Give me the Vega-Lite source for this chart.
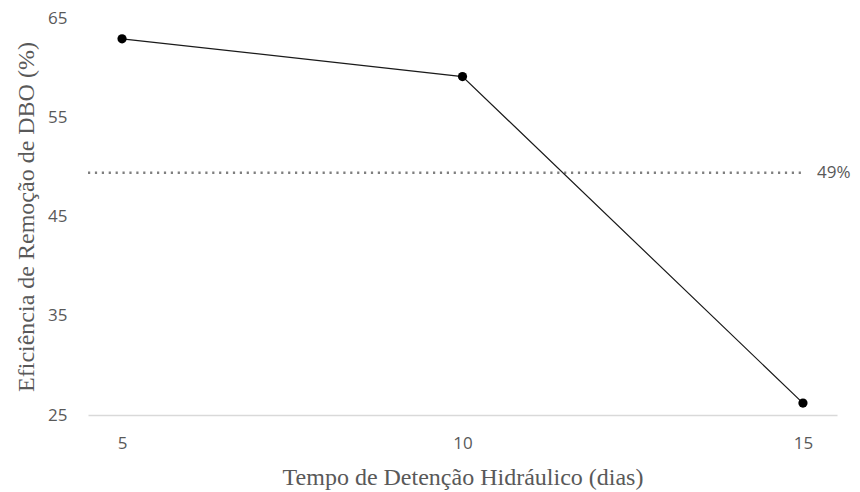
{
  "$schema": "https://vega.github.io/schema/vega-lite/v6.json",
  "width": 749,
  "height": 397,
  "autosize": "none",
  "padding": {"left": 88, "top": 18, "right": 23, "bottom": 77},
  "background": "white",
  "config": {
    "view": {"stroke": null},
    "axis": {
      "grid": false,
      "ticks": false,
      "labelFont": "Open Sans",
      "labelFontSize": 17,
      "labelColor": "#595959",
      "titleFont": "Liberation Serif",
      "titleFontSize": 24,
      "titleFontWeight": "normal",
      "titleColor": "#595959"
    }
  },
  "datasets": {
    "eficiencia": [
      {"tdh": 5, "remocao": 62.9},
      {"tdh": 10, "remocao": 59.1},
      {"tdh": 15, "remocao": 26.2}
    ],
    "referencia": [
      {"inicio": 4.5, "fim": 15, "valor": 49.4}
    ]
  },
  "layer": [
    {
      "data": {"name": "referencia"},
      "mark": {"type": "rule", "color": "#7f7f7f", "strokeWidth": 2.5, "strokeDash": [2.2, 4.7]},
      "encoding": {
        "x": {"field": "inicio", "type": "quantitative"},
        "x2": {"field": "fim"},
        "y": {"field": "valor", "type": "quantitative"}
      }
    },
    {
      "data": {"name": "referencia"},
      "transform": [
        {"calculate": "format(datum.valor, '.0f') + '%'", "as": "rotulo"}
      ],
      "mark": {"type": "text", "align": "left", "baseline": "middle", "dx": 14, "font": "Open Sans", "fontSize": 17, "color": "#595959"},
      "encoding": {
        "x": {"field": "fim", "type": "quantitative"},
        "y": {"field": "valor", "type": "quantitative"},
        "text": {"field": "rotulo", "type": "nominal"}
      }
    },
    {
      "data": {"name": "eficiencia"},
      "mark": {"type": "line", "color": "#1a1a1a", "strokeWidth": 1.2},
      "encoding": {
        "x": {
          "field": "tdh", "type": "quantitative",
          "scale": {"domain": [4.5, 15.5], "nice": false, "zero": false},
          "axis": {
            "values": [5, 10, 15],
            "format": "d",
            "domainColor": "#d9d9d9", "domainWidth": 1.5,
            "labelPadding": 20,
            "title": "Tempo de Detenção Hidráulico (dias)",
            "titlePadding": 14
          }
        },
        "y": {
          "field": "remocao", "type": "quantitative",
          "scale": {"domain": [25, 65], "nice": false, "zero": false},
          "axis": {
            "values": [25, 35, 45, 55, 65],
            "domain": false,
            "labelPadding": 21,
            "title": "Eficiência de Remoção de DBO (%)",
            "titlePadding": 9
          }
        }
      }
    },
    {
      "data": {"name": "eficiencia"},
      "mark": {"type": "point", "filled": true, "color": "black", "opacity": 1, "size": 85},
      "encoding": {
        "x": {"field": "tdh", "type": "quantitative"},
        "y": {"field": "remocao", "type": "quantitative"}
      }
    }
  ]
}
